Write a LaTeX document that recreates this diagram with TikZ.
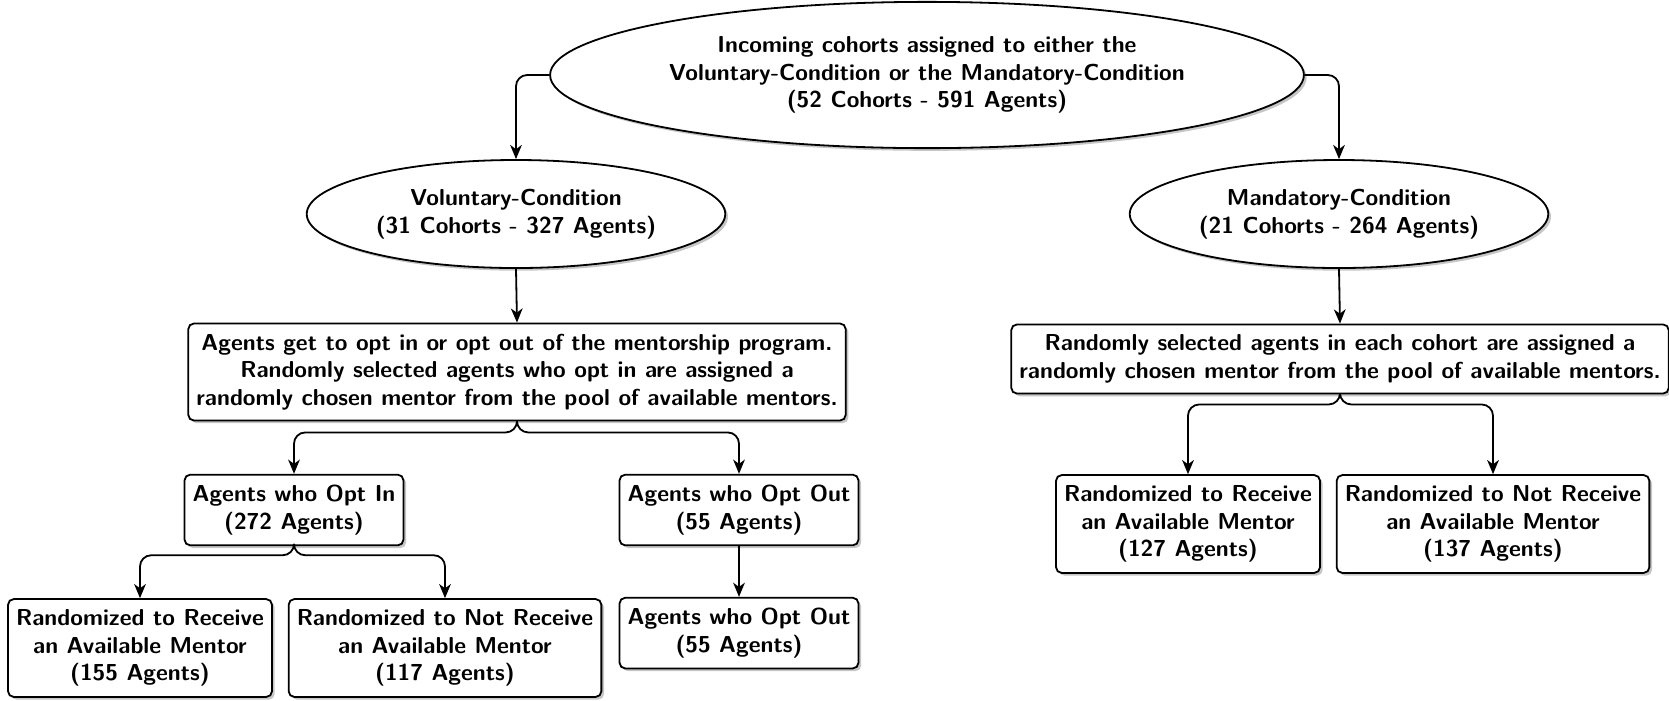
\documentclass[tikz,border=0pt]{standalone}
\usepackage{tikz}
\usetikzlibrary{positioning,shapes.geometric,shadows,arrows.meta}

\tikzset{
    ell/.style={draw, ellipse, thick, fill=white, inner sep=0pt, align=center,
        font=\sffamily\bfseries\fontsize{10.25pt}{12.3pt}\selectfont,
        drop shadow={opacity=0.45, shadow xshift=1.2pt, shadow yshift=-1.2pt}},
    blk/.style={draw, rectangle, rounded corners=2.5pt, thick, fill=white, inner xsep=3.6pt, inner ysep=4.6pt,
        align=center, font=\sffamily\bfseries\fontsize{10.25pt}{12.3pt}\selectfont,
        drop shadow={opacity=0.45, shadow xshift=1.2pt, shadow yshift=-1.2pt}},
    conn/.style={thick, rounded corners=5pt, -{Stealth[length=6.3pt, width=5.2pt, inset=1.9pt]}}
}

\begin{document}
\begin{tikzpicture}[x=0.4444pt, y=-0.4444pt]
    \useasboundingbox (0,0) rectangle (1669,700);

    % top level
    \node [ell, minimum width=335pt, minimum height=65pt] (cohorts) at (927,75)
        {Incoming cohorts assigned to either the\\Voluntary-Condition or the Mandatory-Condition\\(52 Cohorts - 591 Agents)};
    \node [ell, minimum width=186pt, minimum height=48pt] (vol) at (516,214)
        {Voluntary-Condition\\(31 Cohorts - 327 Agents)};
    \node [ell, minimum width=186pt, minimum height=48pt] (man) at (1339,214)
        {Mandatory-Condition\\(21 Cohorts - 264 Agents)};

    % voluntary side
    \node [blk] (volprog) at (517,372)
        {Agents get to opt in or opt out of the mentorship program.\\Randomly selected agents who opt in are assigned a\\randomly chosen mentor from the pool of available mentors.};
    \node [blk] (optin) at (294,510) {Agents who Opt In\\(272 Agents)};
    \node [blk] (optout) at (739,510) {Agents who Opt Out\\(55 Agents)};
    \node [blk, below=22.5pt of optout] (optoutb) {Agents who Opt Out\\(55 Agents)};
    \node [blk] (volrec) at (140,648) {Randomized to Receive\\an Available Mentor\\(155 Agents)};
    \node [blk] (volnot) at (445,648) {Randomized to Not Receive\\an Available Mentor\\(117 Agents)};

    % mandatory side
    \node [blk] (manprog) at (1340,359)
        {Randomly selected agents in each cohort are assigned a\\randomly chosen mentor from the pool of available mentors.};
    \node [blk] (manrec) at (1188,524) {Randomized to Receive\\an Available Mentor\\(127 Agents)};
    \node [blk] (mannot) at (1493,524) {Randomized to Not Receive\\an Available Mentor\\(137 Agents)};

    % connectors
    \draw [conn] (cohorts.west) -| (vol.north);
    \draw [conn] (cohorts.east) -| (man.north);
    \draw [conn] (vol.south) -- (volprog.north);
    \draw [conn] (man.south) -- (manprog.north);
    \draw [conn] (volprog.south) -- ++(0,11) -| (optin.north);
    \draw [conn] (volprog.south) -- ++(0,11) -| (optout.north);
    \draw [conn] (optout.south) -- (optoutb.north);
    \draw [conn] (optin.south) -- ++(0,9) -| (volrec.north);
    \draw [conn] (optin.south) -- ++(0,9) -| (volnot.north);
    \draw [conn] (manprog.south) -- ++(0,10) -| (manrec.north);
    \draw [conn] (manprog.south) -- ++(0,10) -| (mannot.north);
\end{tikzpicture}
\end{document}
